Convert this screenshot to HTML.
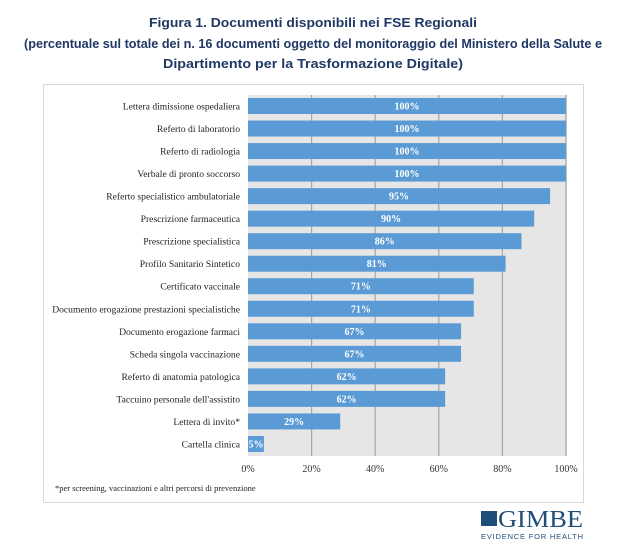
<!DOCTYPE html>
<html><head><meta charset="utf-8"><style>
body{margin:0;background:#fff;}
svg{display:block}
</style></head><body>
<svg width="627" height="560" xmlns="http://www.w3.org/2000/svg" font-family="Liberation Serif, serif">
<g font-family="Liberation Sans, sans-serif" font-weight="bold" fill="#1f3864" font-size="13" text-anchor="middle">
<text x="313" y="27" textLength="328" lengthAdjust="spacingAndGlyphs">Figura 1. Documenti disponibili nei FSE Regionali</text>
<text x="313" y="48" textLength="578" lengthAdjust="spacingAndGlyphs">(percentuale sul totale dei n. 16 documenti oggetto del monitoraggio del Ministero della Salute e</text>
<text x="313" y="68" textLength="300" lengthAdjust="spacingAndGlyphs">Dipartimento per la Trasformazione Digitale)</text>
</g>
<rect x="43.5" y="84.5" width="540" height="418" fill="#fff" stroke="#d9d9d9"/>
<rect x="248" y="95" width="319" height="361" fill="#e6e6e6"/>
<g stroke="#a6a6a6" stroke-width="1.2">
<line x1="311.6" y1="95" x2="311.6" y2="456"/>
<line x1="375.2" y1="95" x2="375.2" y2="456"/>
<line x1="438.8" y1="95" x2="438.8" y2="456"/>
<line x1="502.4" y1="95" x2="502.4" y2="456"/>
<line x1="566" y1="95" x2="566" y2="456"/>
</g>
<g id="bars" font-size="10" font-weight="bold" fill="#fff" text-anchor="middle"></g>
<g id="labels" font-size="9.6" fill="#222" text-anchor="end"></g>
<g font-size="10" fill="#333" text-anchor="middle">
<text x="248" y="472">0%</text><text x="311.6" y="472">20%</text><text x="375.2" y="472">40%</text><text x="438.8" y="472">60%</text><text x="502.4" y="472">80%</text><text x="566" y="472">100%</text>
</g>
<text x="55" y="491" font-size="8.5" fill="#222">*per screening, vaccinazioni e altri percorsi di prevenzione</text>
<g fill="#1f4e79">
<rect x="481" y="511" width="16" height="15" fill="#1f4e79"/>
<text x="498" y="527" font-size="24" font-family="Liberation Serif, serif" textLength="85" lengthAdjust="spacingAndGlyphs">GIMBE</text>
<text x="481" y="539" font-size="7.5" font-family="Liberation Sans, sans-serif" textLength="102" lengthAdjust="spacing">EVIDENCE FOR HEALTH</text>
</g>
<script>
var d=[["Lettera dimissione ospedaliera",100],["Referto di laboratorio",100],["Referto di radiologia",100],["Verbale di pronto soccorso",100],["Referto specialistico ambulatoriale",95],["Prescrizione farmaceutica",90],["Prescrizione specialistica",86],["Profilo Sanitario Sintetico",81],["Certificato vaccinale",71],["Documento erogazione prestazioni specialistiche",71],["Documento erogazione farmaci",67],["Scheda singola vaccinazione",67],["Referto di anatomia patologica",62],["Taccuino personale dell'assistito",62],["Lettera di invito*",29],["Cartella clinica",5]];
var ns="http://www.w3.org/2000/svg",b=document.getElementById("bars"),l=document.getElementById("labels");
d.forEach(function(r,i){var cy=106+i*22.53,w=r[1]*3.18;
var rc=document.createElementNS(ns,"rect");rc.setAttribute("x",248);rc.setAttribute("y",cy-8);rc.setAttribute("width",w);rc.setAttribute("height",16);rc.setAttribute("fill","#5b9bd5");b.appendChild(rc);
var t=document.createElementNS(ns,"text");t.setAttribute("x",r[1]<10?256:248+w/2);t.setAttribute("y",cy+3.5);t.textContent=r[1]+"%";b.appendChild(t);
var s=document.createElementNS(ns,"text");s.setAttribute("x",240);s.setAttribute("y",cy+3.5);s.textContent=r[0];l.appendChild(s);});
</script>
</svg>
</body></html>
